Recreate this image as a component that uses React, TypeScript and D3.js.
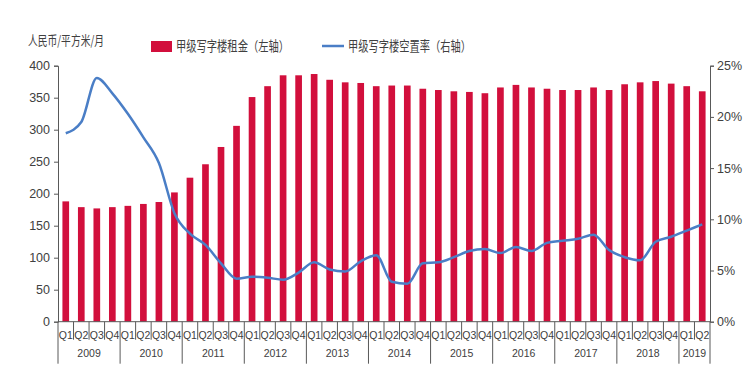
import React, { useRef, useEffect } from 'react';
import * as d3 from 'd3';

const years = ['2009', '2010', '2011', '2012', '2013', '2014', '2015', '2016', '2017', '2018', '2019'];
const quarters = ['Q1', 'Q2', 'Q3', 'Q4'];

// 甲级写字楼租金 (人民币/平方米/月)
const rent = [
  188, 179, 177, 179, 181, 184, 187, 202, 225, 246, 273, 306, 351, 368,
  385, 385, 387, 378, 374, 373, 368, 369, 369, 364, 362, 360, 359, 357,
  366, 370, 366, 364, 362, 362, 366, 362, 371, 374, 376, 372, 368, 360,
];

// 甲级写字楼空置率 (%)
const vacancy = [
  18.4, 19.5, 23.8, 22.3, 20.3, 18.0, 15.5, 10.6, 8.6, 7.5, 5.7, 4.2, 4.4, 4.3,
  4.1, 4.8, 5.8, 5.1, 4.9, 5.9, 6.5, 3.9, 3.7, 5.7, 5.8, 6.3, 6.9, 7.1,
  6.7, 7.3, 6.9, 7.7, 7.9, 8.1, 8.5, 7.0, 6.3, 6.0, 7.8, 8.3, 8.9, 9.5,
];

const leftTicks = [0, 50, 100, 150, 200, 250, 300, 350, 400];
const rightTicks = [0, 5, 10, 15, 20, 25];

function App() {
  const svgRef = useRef<SVGSVGElement>(null);

  useEffect(() => {
    const svg = d3.select(svgRef.current);
    svg.selectAll('*').remove();

    const width = 750;
    const height = 389;
    const margin = { top: 65.7, right: 40, bottom: 67.3, left: 58 };
    const textColor = '#404040';
    const axisColor = '#595959';
    const cjk = '"Noto Sans CJK SC", "Noto Sans", sans-serif';
    const num = '"Liberation Sans", Arial, sans-serif';

    svg.attr('width', width).attr('height', height);

    // categories: every quarter 2009Q1 .. 2019Q2
    const cats: { key: string; q: string; year: string }[] = [];
    years.forEach(y => quarters.forEach(q => cats.push({ key: y + q, q, year: y })));
    const data = cats.slice(0, rent.length);

    const x = d3.scaleBand()
      .domain(data.map(d => d.key))
      .range([margin.left, width - margin.right])
      .paddingInner(0)
      .paddingOuter(0);
    const yLeft = d3.scaleLinear().domain([0, 400]).range([height - margin.bottom, margin.top]);
    const yRight = d3.scaleLinear().domain([0, 25]).range([height - margin.bottom, margin.top]);
    const baseY = height - margin.bottom;

    // bars
    const barW = x.bandwidth() * 0.43;
    svg.append('g')
      .selectAll('rect')
      .data(data)
      .enter()
      .append('rect')
      .attr('x', d => x(d.key)! + (x.bandwidth() - barW) / 2)
      .attr('y', (d, i) => yLeft(rent[i]))
      .attr('width', barW)
      .attr('height', (d, i) => baseY - yLeft(rent[i]))
      .attr('fill', '#D20F3C');

    // vacancy line
    const line = d3.line<number>()
      .x((d, i) => x(data[i].key)! + x.bandwidth() / 2)
      .y(d => yRight(d))
      .curve(d3.curveMonotoneX);
    svg.append('path')
      .datum(vacancy)
      .attr('d', line)
      .attr('fill', 'none')
      .attr('stroke', '#4A7EC6')
      .attr('stroke-width', 2.5);

    // left axis
    const gl = svg.append('g')
      .attr('transform', `translate(${margin.left},0)`)
      .call(d3.axisLeft(yLeft).tickValues(leftTicks).tickSize(4).tickPadding(4));
    gl.select('.domain').attr('stroke', axisColor);
    gl.selectAll('line').attr('stroke', axisColor);
    gl.selectAll('text').attr('fill', textColor).attr('font-size', 12.5).attr('font-family', num);

    // right axis
    const gr = svg.append('g')
      .attr('transform', `translate(${width - margin.right},0)`)
      .call(d3.axisRight(yRight).tickValues(rightTicks).tickSize(4).tickPadding(3).tickFormat(d => `${d}%`));
    gr.select('.domain').attr('stroke', axisColor);
    gr.selectAll('line').attr('stroke', axisColor);
    gr.selectAll('text').attr('fill', textColor).attr('font-size', 12.5).attr('font-family', num);

    // bottom axis: baseline, quarter ticks and labels, year groups
    const gx = svg.append('g');
    gx.append('line')
      .attr('x1', margin.left).attr('x2', width - margin.right)
      .attr('y1', baseY).attr('y2', baseY)
      .attr('stroke', axisColor);
    data.forEach(d => {
      const x0 = x(d.key)!;
      const isYearStart = d.q === 'Q1';
      gx.append('line')
        .attr('x1', x0).attr('x2', x0)
        .attr('y1', baseY).attr('y2', isYearStart ? baseY + 42 : baseY + 18)
        .attr('stroke', axisColor);
      gx.append('text')
        .attr('x', x0 + x.bandwidth() / 2)
        .attr('y', baseY + 17)
        .attr('text-anchor', 'middle')
        .attr('font-size', 10.5)
        .attr('font-family', num)
        .attr('fill', textColor)
        .text(d.q);
    });
    const endX = width - margin.right;
    gx.append('line')
      .attr('x1', endX).attr('x2', endX)
      .attr('y1', baseY).attr('y2', baseY + 42)
      .attr('stroke', axisColor);
    years.forEach(y => {
      const inYear = data.filter(d => d.year === y);
      const x0 = x(inYear[0].key)!;
      const x1 = x(inYear[inYear.length - 1].key)! + x.bandwidth();
      gx.append('text')
        .attr('x', (x0 + x1) / 2)
        .attr('y', baseY + 35)
        .attr('text-anchor', 'middle')
        .attr('font-size', 10.5)
        .attr('font-family', num)
        .attr('fill', textColor)
        .text(y);
    });

    // unit label
    svg.append('text')
      .attr('x', 28)
      .attr('y', 45)
      .attr('font-size', 13)
      .attr('font-family', cjk)
      .attr('fill', textColor)
      .attr('textLength', 76)
      .attr('lengthAdjust', 'spacingAndGlyphs')
      .text('人民币/平方米/月');

    // legend
    svg.append('rect')
      .attr('x', 151).attr('y', 41)
      .attr('width', 21).attr('height', 11)
      .attr('fill', '#D20F3C');
    svg.append('text')
      .attr('x', 176).attr('y', 51)
      .attr('font-size', 13.5)
      .attr('font-family', cjk)
      .attr('fill', textColor)
      .attr('textLength', 113)
      .attr('lengthAdjust', 'spacingAndGlyphs')
      .text('甲级写字楼租金（左轴）');
    svg.append('line')
      .attr('x1', 322).attr('x2', 344)
      .attr('y1', 46).attr('y2', 46)
      .attr('stroke', '#4A7EC6')
      .attr('stroke-width', 2.5);
    svg.append('text')
      .attr('x', 348).attr('y', 51)
      .attr('font-size', 13.5)
      .attr('font-family', cjk)
      .attr('fill', textColor)
      .attr('textLength', 123)
      .attr('lengthAdjust', 'spacingAndGlyphs')
      .text('甲级写字楼空置率（右轴）');
  }, []);

  return (
    <svg
      ref={svgRef}
      style={{ position: 'absolute', left: 0, top: 0, display: 'block', background: '#fff' }}
    ></svg>
  );
}

export default App;
